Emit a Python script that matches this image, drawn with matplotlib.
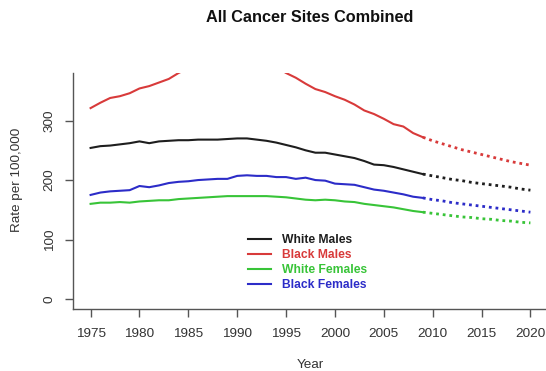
import matplotlib
matplotlib.use("Agg")
import matplotlib.pyplot as plt
import numpy as np

# ---------------- DATA ----------------
years = list(range(1975, 2010))
proj_years = list(range(2009, 2021))

white_males = [254, 257, 258, 260, 262, 265, 262, 265, 266, 267, 267, 268, 268, 268, 269,
               270, 270, 268, 266, 263, 259, 255, 250, 246, 246, 243, 240, 237, 232, 226,
               225, 222, 218, 214, 210]
black_males = [321, 330, 338, 341, 346, 354, 358, 364, 370, 380, 388, 394, 400, 405, 410,
               412, 412, 410, 400, 390, 380, 372, 362, 353, 348, 341, 335, 327, 317, 311,
               303, 294, 290, 279, 272]
white_females = [160, 162, 162, 163, 162, 164, 165, 166, 166, 168, 169, 170, 171, 172, 173,
                 173, 173, 173, 173, 172, 171, 169, 167, 166, 167, 166, 164, 163, 160, 158,
                 156, 154, 151, 148, 146]
black_females = [175, 179, 181, 182, 183, 190, 188, 191, 195, 197, 198, 200, 201, 202, 202,
                 207, 208, 207, 207, 205, 205, 202, 204, 200, 199, 194, 193, 192, 188, 184,
                 182, 179, 176, 172, 170]

white_males_proj = [210, 207, 204, 201, 199, 196, 194, 192, 190, 188, 185, 183]
black_males_proj = [272, 266, 261, 256, 251, 247, 243, 239, 235, 231, 228, 225]
white_females_proj = [146, 144, 142, 140, 138, 137, 135, 134, 132, 131, 129, 128]
black_females_proj = [170, 167, 165, 162, 160, 158, 156, 154, 152, 150, 148, 146]

labels = ["White Males", "Black Males", "White Females", "Black Females"]
colors = ["#1e1e1e", "#d83a3a", "#38c438", "#2c2cc8"]
x_ticks = list(range(1975, 2021, 5))
y_ticks = [0, 100, 200, 300]
# --------------------------------------

plt.rcParams["font.family"] = ["Liberation Sans", "DejaVu Sans"]
TXT = "#333333"
AX = "#555555"
W, H = 546, 371

fig = plt.figure(figsize=(5.46, 3.71), dpi=100)
ax = fig.add_axes([73 / W, 1 - 309 / H, 475 / W, 236 / H])

observed = [white_males, black_males, white_females, black_females]
projected = [white_males_proj, black_males_proj, white_females_proj, black_females_proj]

for obs, proj, lab, col in zip(observed, projected, labels, colors):
    ax.plot(years, obs, color=col, lw=1.5, label=lab)
    ax.plot(proj_years, proj, color=col, lw=2.0, linestyle=(0, (1, 1.4)))

ax.set_xlim(1973.2, 2021.8)
ax.set_ylim(-16.8, 380)

ax.spines["top"].set_visible(False)
ax.spines["right"].set_visible(False)
for s in ["left", "bottom"]:
    ax.spines[s].set_color(AX)
    ax.spines[s].set_linewidth(1)

ax.set_xticks(x_ticks)
ax.set_yticks(y_ticks)
ax.set_yticklabels([str(v) for v in y_ticks], rotation=90, va="center")
ax.tick_params(axis="both", colors=AX, labelcolor=TXT, length=5.5, width=1,
               labelsize=9.7)
ax.tick_params(axis="x", pad=8)
ax.tick_params(axis="y", pad=7)

ax.set_xlabel("Year", fontsize=9.7, color=TXT)
ax.set_ylabel("Rate per 100,000", fontsize=9.7, color=TXT)
# label positions in figure pixels, converted to axes coords
ax.xaxis.set_label_coords((310 - 73) / 475, -(365 - 309) / 236)
ax.yaxis.set_label_coords(-(73 - 17) / 475, (309 - 180) / 236)
ax.xaxis.label.set_va("center")
ax.yaxis.label.set_va("center")

fig.text(310 / W, 1 - 18 / H, "All Cancer Sites Combined", ha="center", va="center",
         fontsize=11.7, fontweight="bold", color="#111111")

leg = ax.legend(loc="upper left", bbox_to_anchor=(248 / W, 1 - 234 / H),
                bbox_transform=fig.transFigure, frameon=False,
                handlelength=1.9, handletextpad=0.9, labelspacing=0.25,
                prop={"weight": "bold", "size": 8.7}, labelcolor="linecolor",
                borderpad=0, borderaxespad=0)

fig.savefig("out.png", dpi=100)
